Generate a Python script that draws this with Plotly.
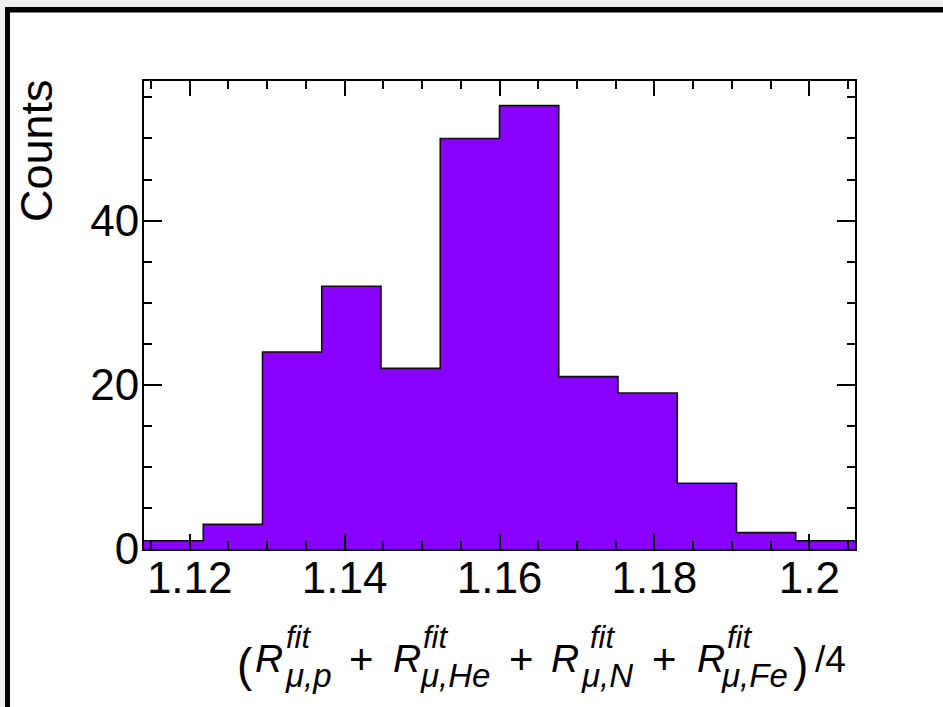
import numpy as np
import plotly.graph_objects as go

# ---- data ----
counts = [1, 3, 24, 32, 22, 50, 54, 21, 19, 8, 2, 1]
x_lo, x_hi = 1.1141, 1.2059
y_hi = 57
x_tick_vals = [1.12, 1.14, 1.16, 1.18, 1.2]
x_tick_text = ["1.12", "1.14", "1.16", "1.18", "1.2"]
y_tick_vals = [0, 20, 40]
y_tick_text = ["0", "20", "40"]
y_title = "Counts"

edges = np.linspace(x_lo, x_hi, len(counts) + 1)
step_y = counts + [counts[-1]]

W, H = 943, 707
L, R, T, B = 144, 88, 81, 158
PW, PH = W - L - R, H - T - B


def px(p):
    return (p - L) / PW


def py(p):
    return 1 - (p - T) / PH


FONT = "Liberation Sans, Arial, Helvetica, sans-serif"

fig = go.Figure()
fig.add_trace(go.Scatter(
    x=edges, y=step_y, mode="lines",
    line=dict(shape="hv", color="#111111", width=1.6),
    fill="tozeroy", fillcolor="#8800ff", hoverinfo="skip", showlegend=False,
))

axis_common = dict(
    showline=True, linewidth=2, linecolor="black", mirror="ticks",
    ticks="inside", tickcolor="black", tickwidth=1.5,
    showgrid=False, zeroline=False,
    tickfont=dict(family=FONT, size=44, color="black"),
)

fig.update_xaxes(
    range=[x_lo, x_hi], tickmode="array", tickvals=x_tick_vals, ticktext=x_tick_text,
    ticklen=15, ticklabelstandoff=-11,
    minor=dict(ticks="inside", ticklen=8, tickmode="linear", tick0=1.12, dtick=0.005,
               tickcolor="black", tickwidth=1.5, showgrid=False),
    **axis_common,
)
fig.update_yaxes(
    range=[0, y_hi], tickmode="array", tickvals=y_tick_vals, ticktext=y_tick_text,
    ticklen=18, ticklabelstandoff=-6,
    minor=dict(ticks="inside", ticklen=8, tickmode="linear", tick0=0, dtick=5,
               tickcolor="black", tickwidth=1.5, showgrid=False),
    **axis_common,
)

annotations = []
# y title
annotations.append(dict(
    text=y_title, textangle=-90, x=px(36), y=py(151), xref="paper", yref="paper",
    xanchor="center", yanchor="middle", showarrow=False,
    font=dict(family=FONT, size=45, color="black"),
))

# x title pieces: (text, x_px, anchor, size, baseline_px)
BASE = 672
SUP_BASE = 648
SUB_BASE = 687
RS, SS, BS, PS = 39, 31, 33, 42
parts = [
    ("(", 244.7, "center", 46, BASE + 9),
    ("<i>R</i>", 269, "center", RS, BASE),
    ("<i>fit</i>", 285, "left", SS, SUP_BASE), ("<i>μ,p</i>", 284, "left", BS, SUB_BASE),
    ("+", 361.7, "center", PS, BASE + 2),
    ("<i>R</i>", 407, "center", RS, BASE),
    ("<i>fit</i>", 422, "left", SS, SUP_BASE), ("<i>μ,He</i>", 419, "left", BS, SUB_BASE),
    ("+", 521.7, "center", PS, BASE + 2),
    ("<i>R</i>", 565, "center", RS, BASE),
    ("<i>fit</i>", 589, "left", SS, SUP_BASE), ("<i>μ,N</i>", 580, "left", BS, SUB_BASE),
    ("+", 664, "center", PS, BASE + 2),
    ("<i>R</i>", 711, "center", RS, BASE),
    ("<i>fit</i>", 726, "left", SS, SUP_BASE), ("<i>μ,Fe</i>", 720, "left", BS, SUB_BASE),
    (")", 800.5, "center", 46, BASE + 9),
    ("/4", 830, "center", 37, BASE),
]
for txt, x0, anchor, size, base in parts:
    cy = base - 0.3465 * size
    annotations.append(dict(
        text=txt, x=px(x0), y=py(cy), xref="paper", yref="paper",
        xanchor=anchor, yanchor="middle", showarrow=False, borderpad=0,
        font=dict(family=FONT, size=size, color="black"),
    ))

shapes = [
    dict(type="rect", xref="paper", yref="paper", x0=px(0), x1=px(W), y0=py(0), y1=py(7),
         fillcolor="#efefef", line_width=0, layer="above"),
    dict(type="rect", xref="paper", yref="paper", x0=px(0), x1=px(5), y0=py(0), y1=py(H),
         fillcolor="#efefef", line_width=0, layer="above"),
    dict(type="rect", xref="paper", yref="paper", x0=px(5), x1=px(W), y0=py(7), y1=py(12.5),
         fillcolor="black", line_width=0, layer="above"),
    dict(type="rect", xref="paper", yref="paper", x0=px(5), x1=px(10), y0=py(7), y1=py(H),
         fillcolor="black", line_width=0, layer="above"),
]

fig.update_layout(
    width=W, height=H,
    margin=dict(l=L, r=R, t=T, b=B, autoexpand=False),
    paper_bgcolor="white", plot_bgcolor="white",
    annotations=annotations, shapes=shapes,
    showlegend=False,
)

fig.write_html("out.html")
